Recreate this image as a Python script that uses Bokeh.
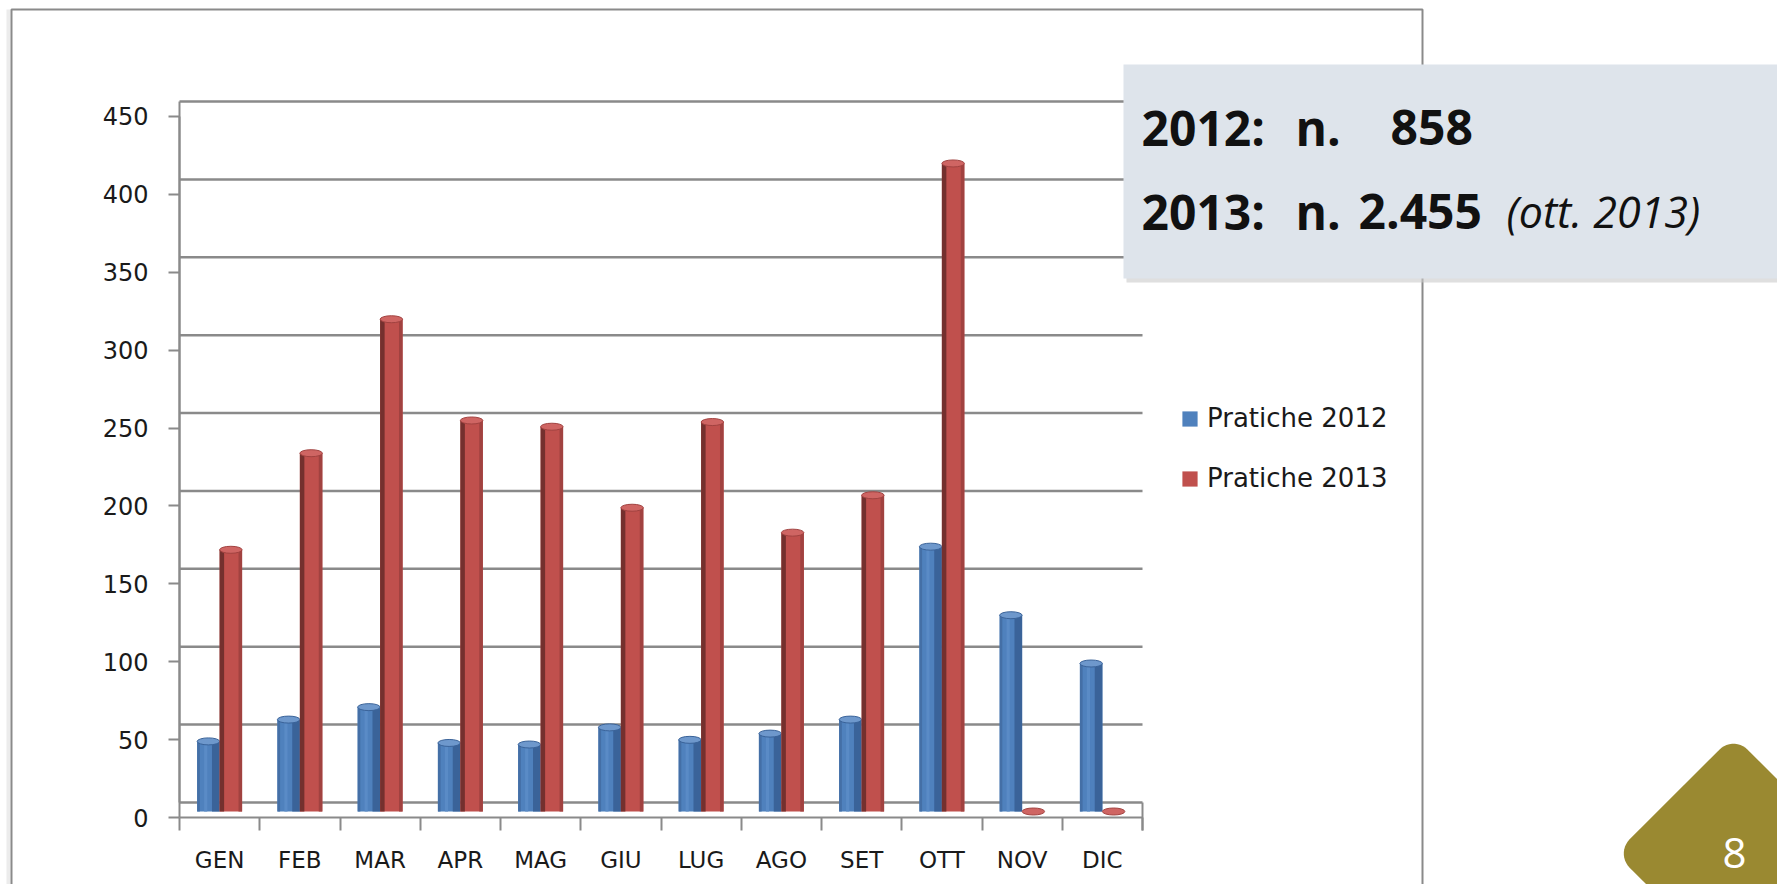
import numpy as np
from bokeh.plotting import figure
from bokeh.models import (Range1d, LinearAxis, FixedTicker, Legend, LegendItem, Label)
from bokeh.embed import file_html
from bokeh.resources import INLINE

# ---------------- data ----------------
months = ["GEN", "FEB", "MAR", "APR", "MAG", "GIU", "LUG", "AGO", "SET", "OTT", "NOV", "DIC"]
pratiche_2012 = [45, 59, 67, 44, 43, 54, 46, 50, 59, 170, 126, 95]
pratiche_2013 = [168, 230, 316, 251, 247, 195, 250, 179, 203, 416, 0, 0]
series_names = ["Pratiche 2012", "Pratiche 2013"]
y_ticks = [0, 50, 100, 150, 200, 250, 300, 350, 400, 450]
box_line1 = ["2012:", "n.", "858"]
box_line2 = ["2013:", "n.", "2.455", "(ott. 2013)"]
page_number = "8"

# ---------------- layout constants (pixels) ----------------
W, H = 1777, 884
CAT_W = 80.25          # px per month
AX_X = 179             # x of chart left edge
PX = 1.5578            # px per unit
BAR_ZERO = 811         # y of bar base
LAB_ZERO = 817         # y of front axis zero
GRID_ZERO = 802        # y of back wall zero

x_start = 0.5 - AX_X / CAT_W
x_end = x_start + W / CAT_W

p = figure(width=W, height=H, output_backend="svg", toolbar_location=None,
           x_axis_type=None, y_axis_type=None,
           x_range=Range1d(x_start, x_end),
           y_range=Range1d(-(H - BAR_ZERO) / PX, BAR_ZERO / PX),
           min_border=0, min_border_left=0, min_border_right=0,
           min_border_top=0, min_border_bottom=0)
p.outline_line_color = None
p.background_fill_color = "white"
p.border_fill_color = "white"
p.extra_y_ranges = {
    "lab": Range1d(-(H - LAB_ZERO) / PX, LAB_ZERO / PX),
    "grid": Range1d(-(H - GRID_ZERO) / PX, GRID_ZERO / PX),
    "py": Range1d(H, 0),
}
p.extra_x_ranges = {"px": Range1d(0, W)}

GRAY = "#8a8a8a"
n = len(months)
idx = np.arange(1, n + 1)

# slide frame (with faint shadow)
p.segment(x0=[8], x1=[8], y0=[9], y1=[H + 20], x_range_name="px", y_range_name="py",
          line_color="#ececec", line_width=4)
p.quad(left=[11], right=[1422], top=[9], bottom=[H + 20], x_range_name="px", y_range_name="py",
       fill_color=None, line_color="#8a8a8a", line_width=2)

# back wall gridlines + left wall edge
p.segment(x0=0.5, x1=n + 0.5, y0=y_ticks, y1=y_ticks, y_range_name="grid",
          line_color=GRAY, line_width=2.5)
p.segment(x0=[0.5], x1=[0.5], y0=[y_ticks[0]], y1=[y_ticks[-1]], y_range_name="grid",
          line_color=GRAY, line_width=2)

# ---------------- bars (cylinder-like) ----------------
BW = 0.28
xb = idx - BW / 2
xr = idx + BW / 2
blue, blue_dk, blue_lt = "#4F81BD", "#3A6399", "#6E98CC"
red, red_dk, red_sh = "#C0504D", "#A14240", "#74302E"

r12 = p.vbar(x=xb, top=pratiche_2012, bottom=0, width=BW, fill_color=blue, line_color=None)
p.vbar(x=xb + BW * 0.33, top=pratiche_2012, bottom=0, width=BW * 0.34, fill_color=blue_dk,
       line_color=None)
p.vbar(x=xb - BW * 0.44, top=pratiche_2012, bottom=0, width=BW * 0.12, fill_color="#446FA6",
       line_color=None)
p.vbar(x=xb - BW * 0.12, top=pratiche_2012, bottom=0, width=BW * 0.14, fill_color="#5A8BC6",
       line_color=None)
p.ellipse(x=xb, y=pratiche_2012, width=BW, height=7, height_units="screen",
          fill_color=blue_lt, line_color=blue_dk, line_width=1)

r13 = p.vbar(x=xr, top=pratiche_2013, bottom=0, width=BW, fill_color=red, line_color=None)
p.vbar(x=xr - BW * 0.40, top=pratiche_2013, bottom=0, width=BW * 0.20, fill_color=red_sh,
       line_color=None)
p.vbar(x=xr + BW * 0.42, top=pratiche_2013, bottom=0, width=BW * 0.16, fill_color=red_dk,
       line_color=None)
p.ellipse(x=xr, y=pratiche_2013, width=BW, height=7, height_units="screen",
          fill_color="#CF6563", line_color=red_dk, line_width=1)

# ---------------- axes ----------------
yax = LinearAxis(y_range_name="lab", fixed_location=0.5, ticker=FixedTicker(ticks=y_ticks),
                 bounds=(y_ticks[0], y_ticks[-1]))
yax.axis_line_color = GRAY
yax.axis_line_width = 2
yax.major_tick_line_color = GRAY
yax.major_tick_line_width = 2
yax.major_tick_out = 11
yax.major_tick_in = 0
yax.minor_tick_line_color = None
yax.major_label_standoff = 20
yax.major_label_text_font = "DejaVu Sans"
yax.major_label_text_font_size = "24px"
yax.major_label_text_color = "#1a1a1a"
p.add_layout(yax, "left")

bounds_ticks = list(np.arange(n + 1) + 0.5)
xax = LinearAxis(y_range_name="lab", fixed_location=0, ticker=FixedTicker(ticks=bounds_ticks),
                 bounds=(0.5, n + 0.5))
xax.axis_line_color = GRAY
xax.axis_line_width = 2
xax.major_tick_line_color = GRAY
xax.major_tick_line_width = 2
xax.major_tick_out = 13
xax.major_tick_in = 0
xax.minor_tick_line_color = None
xax.major_label_text_font_size = "0px"
xax.major_label_text_alpha = 0
p.add_layout(xax, "below")

xedge = LinearAxis(y_range_name="lab", fixed_location=0, ticker=FixedTicker(ticks=[n + 0.5]))
xedge.axis_line_color = None
xedge.major_tick_line_color = GRAY
xedge.major_tick_line_width = 2
xedge.major_tick_in = 15
xedge.major_tick_out = 13
xedge.minor_tick_line_color = None
xedge.major_label_text_font_size = "0px"
xedge.major_label_text_alpha = 0
p.add_layout(xedge, "below")

xlab = LinearAxis(y_range_name="lab", fixed_location=0, ticker=FixedTicker(ticks=list(idx)),
                  major_label_overrides={int(i): m for i, m in zip(idx, months)})
xlab.axis_line_color = None
xlab.major_tick_line_color = None
xlab.minor_tick_line_color = None
xlab.major_label_standoff = 23
xlab.major_label_text_font = "DejaVu Sans"
xlab.major_label_text_font_size = "23px"
xlab.major_label_text_color = "#1a1a1a"
p.add_layout(xlab, "below")

# ---------------- legend ----------------
legend = Legend(items=[LegendItem(label=series_names[0], renderers=[r12]),
                       LegendItem(label=series_names[1], renderers=[r13])],
                location=(1180, 391), orientation="vertical",
                glyph_width=19, glyph_height=19, label_height=30, label_standoff=8,
                spacing=30, padding=0, margin=0,
                label_text_font="DejaVu Sans", label_text_font_size="26px",
                label_text_color="#1a1a1a",
                border_line_color=None, background_fill_alpha=0)
p.add_layout(legend)

# ---------------- info box ----------------
p.quad(left=[1126], right=[W + 10], top=[67], bottom=[282], x_range_name="px", y_range_name="py",
       fill_color="#c9c9c9", fill_alpha=0.6, line_color=None)
p.quad(left=[1123], right=[W + 10], top=[64], bottom=[278], x_range_name="px", y_range_name="py",
       fill_color="#DEE4EB", line_color=None)

def box_text(txt, x, y, style="bold", size="48px"):
    p.add_layout(Label(x=x, y=y, x_range_name="px", y_range_name="py", text=txt,
                       text_font="Open Sans", text_font_style=style, text_font_size=size,
                       text_color="#111111", text_baseline="middle", text_align="left"))

box_text(box_line1[0], 1141, 127)
box_text(box_line1[1], 1295, 127)
box_text(box_line1[2], 1390, 127)
box_text(box_line2[0], 1141, 211)
box_text(box_line2[1], 1295, 211)
box_text(box_line2[2], 1358, 211)
box_text(box_line2[3], 1506, 211, style="italic", size="43px")

# ---------------- page badge ----------------
cx, cy, rr, rad = 1733, 853, 118, 20
bx, by = [], []
for th in [-90, 0, 90, 180]:
    t = np.deg2rad(th)
    ccx = cx + (rr - rad * np.sqrt(2)) * np.cos(t)
    ccy = cy + (rr - rad * np.sqrt(2)) * np.sin(t)
    phis = np.deg2rad(np.linspace(th - 45, th + 45, 12))
    bx.extend(ccx + rad * np.cos(phis))
    by.extend(ccy + rad * np.sin(phis))
p.patch(x=bx, y=by, x_range_name="px", y_range_name="py", fill_color="#9A8931", line_color=None)
p.add_layout(Label(x=1734, y=852, x_range_name="px", y_range_name="py", text=page_number,
                   text_font="Open Sans", text_font_size="42px", text_color="white",
                   text_align="center", text_baseline="middle"))

open("out.html", "w").write(file_html(p, INLINE))
